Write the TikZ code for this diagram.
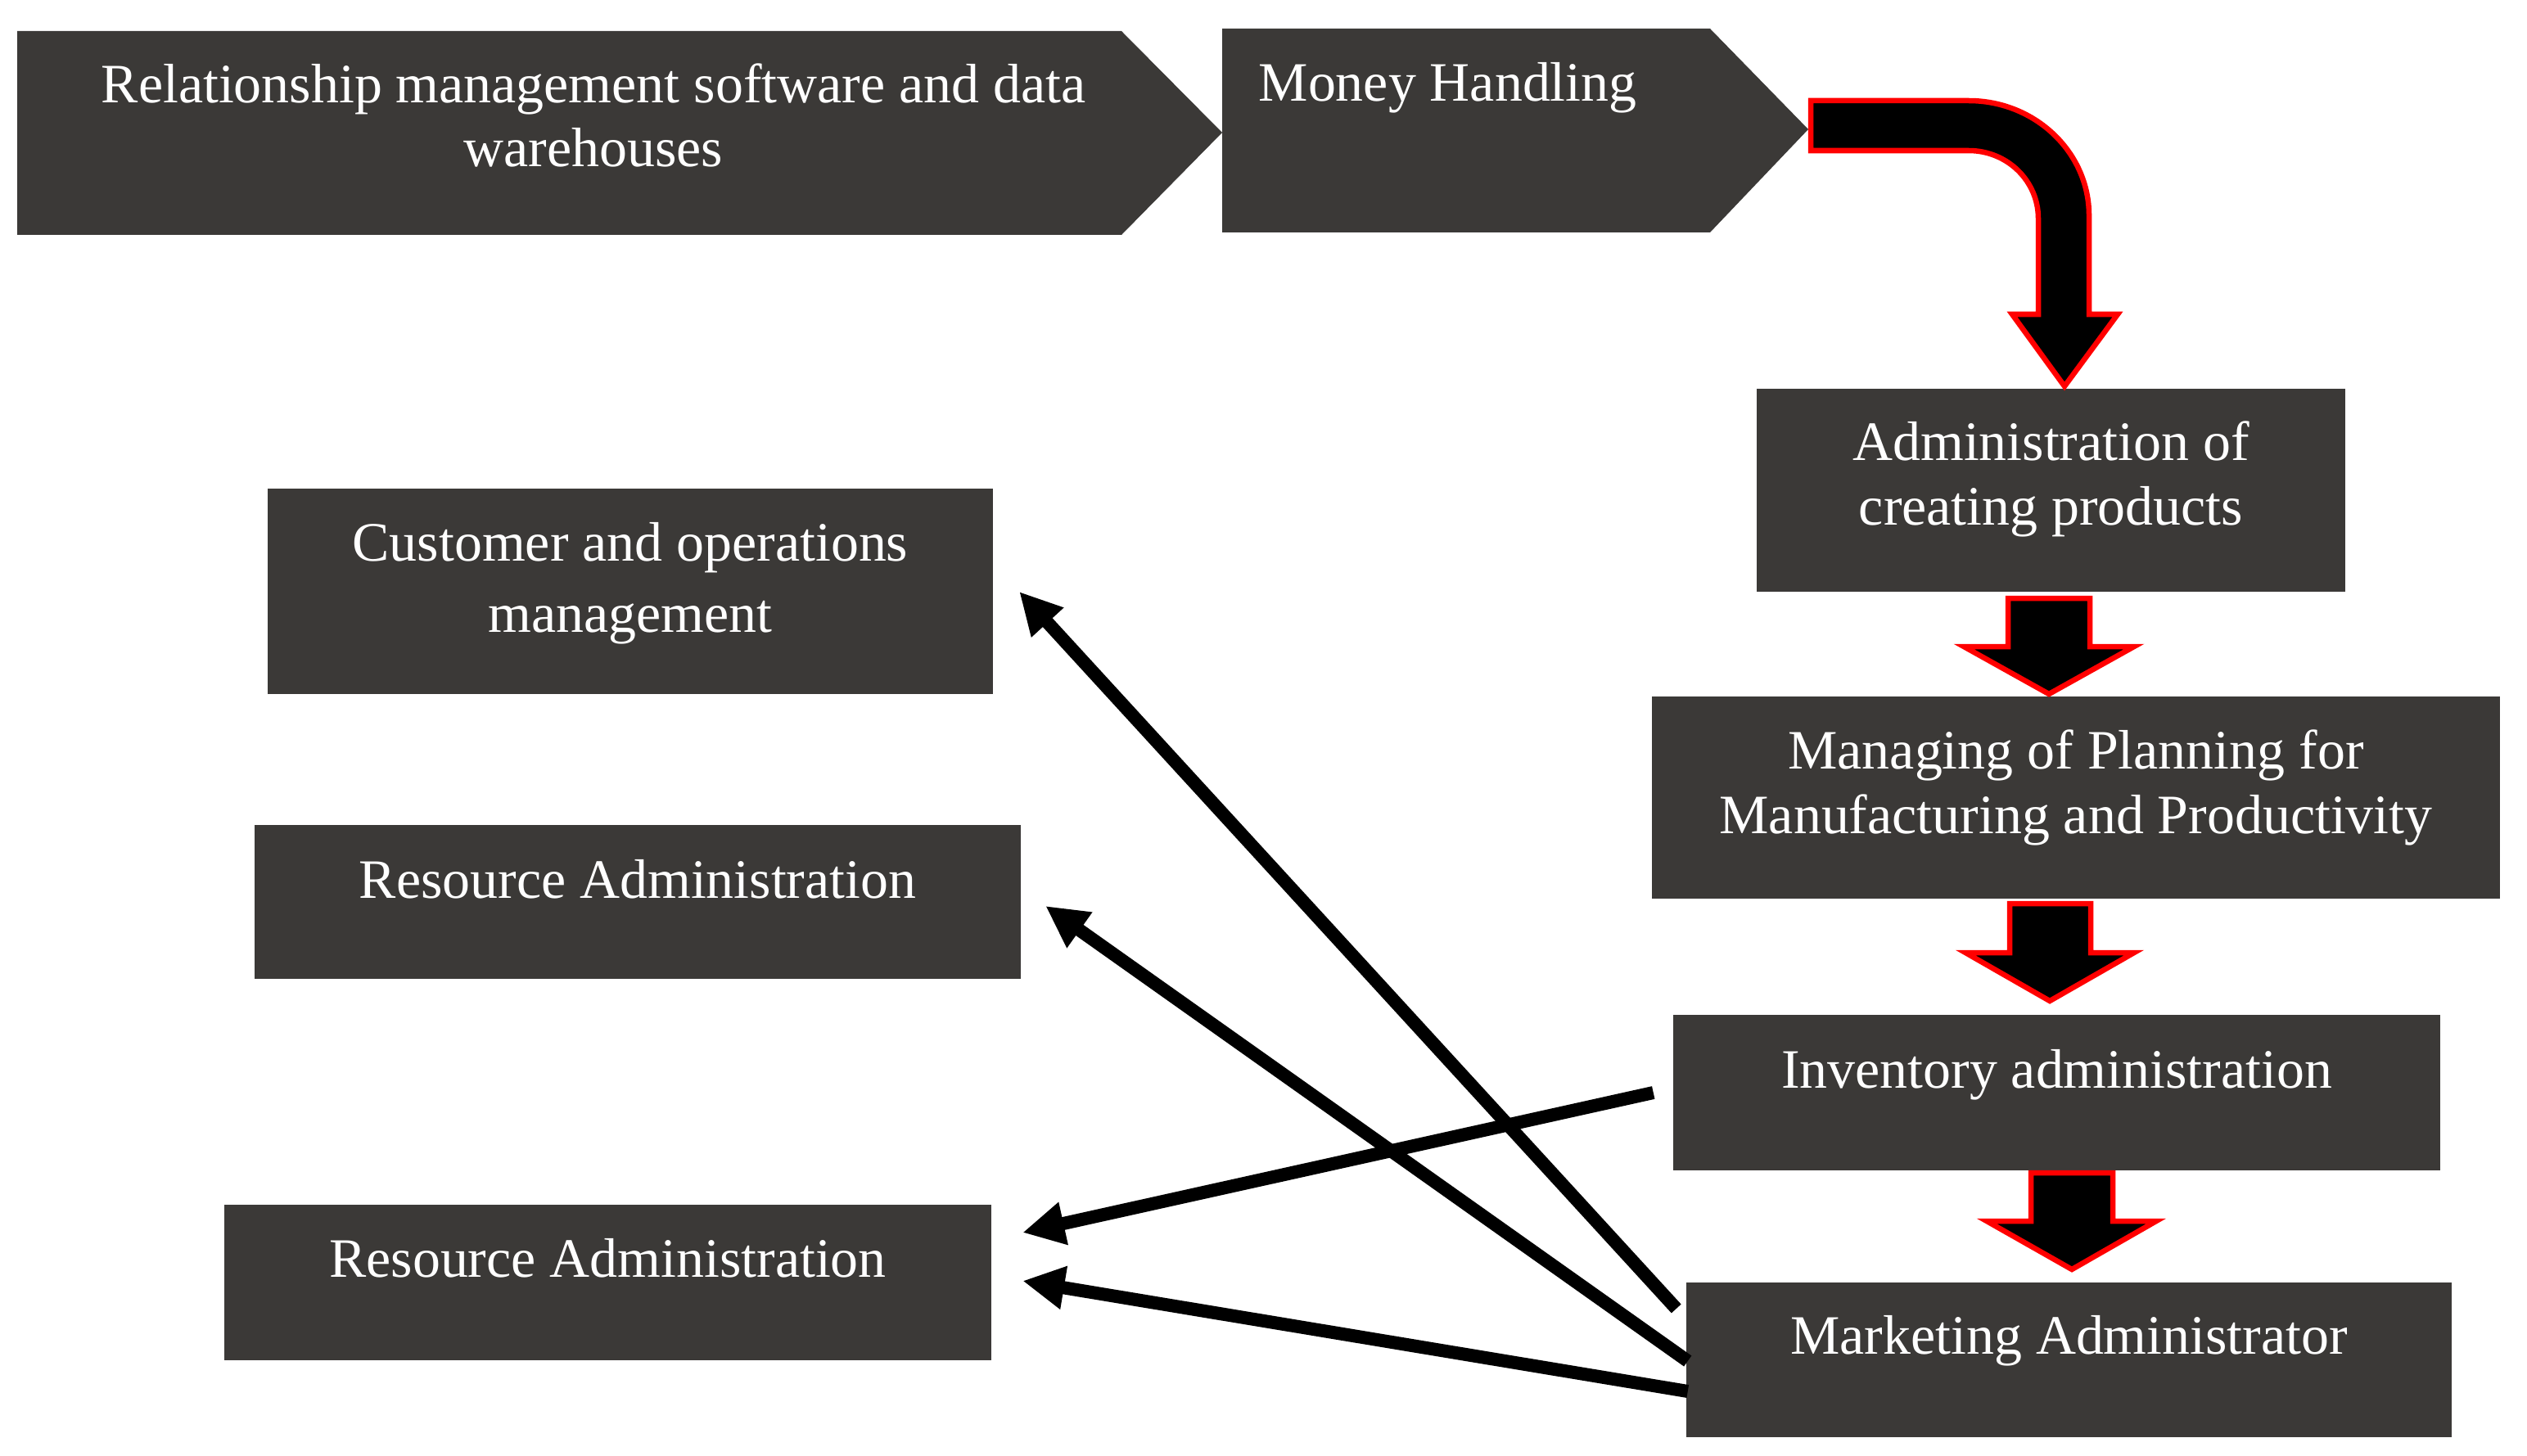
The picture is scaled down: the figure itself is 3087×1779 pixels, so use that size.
\documentclass[tikz,border=0pt]{standalone}
\usepackage{fontspec}
\setmainfont{Liberation Serif}
\usetikzlibrary{arrows.meta,calc}
\definecolor{boxgray}{RGB}{59,57,55}
\definecolor{arrred}{RGB}{255,0,0}
\begin{document}
\begin{tikzpicture}[x=0.01cm,y=-0.01cm,
  box/.style={fill=boxgray, draw=none, inner sep=0pt, outer sep=0pt},
  txt/.style={text=white, font=\fontsize{19.3}{22.4}\selectfont, align=center, inner sep=0pt, anchor=base},
  blk/.style={fill=black, draw=arrred, line width=0.065cm, line join=miter},
  link/.style={draw=black, line width=0.16cm, -{Triangle[length=0.51cm,width=0.50cm]}}]
\useasboundingbox (0,0) rectangle (3087,1779);

% chevrons
\fill[boxgray] (21,38) -- (1370,38) -- (1493,162) -- (1370,287) -- (21,287) -- cycle;
\coordinate (chev1) at (757,162);
\fill[boxgray] (1493,35) -- (2089,35) -- (2209,158) -- (2089,284) -- (1493,284) -- cycle;
\coordinate (chev2) at (1851,158);
\node[txt] (tchev1) at (725,204) {Relationship management software and data\\warehouses};
\node[txt, anchor=base west] (tchev2) at (1537,124) {Money Handling};

% boxes
\node[box, minimum width=7.19cm, minimum height=2.48cm] (admin) at (2505.5,599) {};
\node[box, minimum width=10.36cm, minimum height=2.47cm] (plan) at (2536,974.5) {};
\node[box, minimum width=9.37cm, minimum height=1.90cm] (inv) at (2512.5,1335) {};
\node[box, minimum width=9.35cm, minimum height=1.89cm] (mkt) at (2527.5,1661.5) {};
\node[box, minimum width=8.86cm, minimum height=2.50cm] (cust) at (770,722.5) {};
\node[box, minimum width=9.36cm, minimum height=1.88cm] (res1) at (779,1102) {};
\node[box, minimum width=9.37cm, minimum height=1.90cm] (res2) at (742.5,1567) {};

% texts
\node[txt] (tadmin) at (2505.5,641) {Administration of\\creating products};
\node[txt] (tplan) at (2536,1018) {Managing of Planning for\\Manufacturing and Productivity};
\node[txt] (tinv) at (2512.5,1329) {Inventory administration};
\node[txt] (tmkt) at (2527.5,1654) {Marketing Administrator};
\node[txt, font=\fontsize{19.3}{24.7}\selectfont] (tcust) at (770,772) {Customer and operations\\management};
\node[txt] (tres1) at (779,1097) {Resource Administration};
\node[txt] (tres2) at (742.5,1560) {Resource Administration};

% bent block arrow
\draw[blk] (2212,123) -- (2405,123)
  .. controls (2486,123) and (2552,186) .. (2552,263)
  -- (2552,384) -- (2587,384) -- (2522,472) -- (2458,384) -- (2490,384) -- (2490,267)
  .. controls (2490,221) and (2452,184) .. (2405,184)
  -- (2212,184) -- cycle;

% straight block arrows
\draw[blk] (2453,731) -- (2553,731) -- (2553,790) -- (2607,790) -- (2503,848) -- (2399,790) -- (2453,790) -- cycle;
\draw[blk] (2455,1104) -- (2554,1104) -- (2554,1164) -- (2607,1164) -- (2504,1223) -- (2401,1164) -- (2455,1164) -- cycle;
\draw[blk] (2481,1433) -- (2581,1433) -- (2581,1492) -- (2634,1492) -- (2531,1551) -- (2427,1492) -- (2481,1492) -- cycle;

% connectors
\draw[link] ($(mkt.north west)+(-12,32)$) -- ($(cust.east)+(32,0.5)$);
\draw[link] ($(mkt.west)+(2,1.5)$) -- ($(res1.east)+(30,5)$);
\draw[link] ($(inv.west)+(-24,0)$) -- ($(res2.east)+(38,-61)$);
\draw[link] ($(mkt.west)+(2,38.5)$) -- ($(res2.east)+(38,-2)$);
\end{tikzpicture}
\end{document}
